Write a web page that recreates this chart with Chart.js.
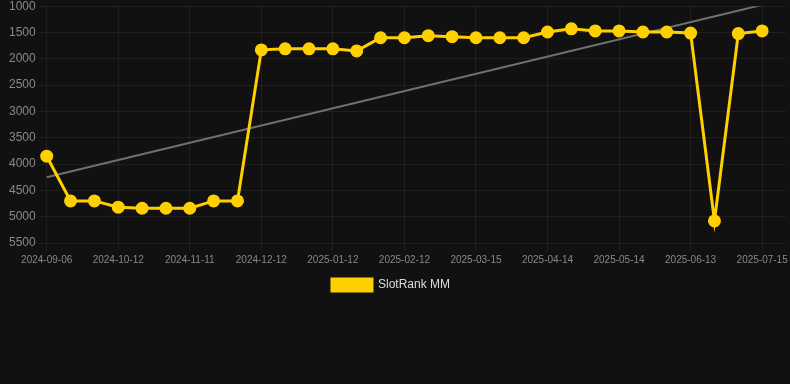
<!DOCTYPE html>
<html>
<head>
<meta charset="utf-8">
<script src="https://cdn.jsdelivr.net/npm/chart.js@4"></script>
<style>
  html, body { margin: 0; padding: 0; background: #111111; overflow: hidden; }
  #wrap { width: 794px; height: 388px; position: relative; margin-top: -4px; }
</style>
</head>
<body>
<div id="wrap"><canvas id="c"></canvas></div>
<script>
const dates = [
  "2024-09-06","2024-09-18","2024-09-30","2024-10-12","2024-10-22","2024-11-01",
  "2024-11-11","2024-11-21","2024-12-01","2024-12-12","2024-12-22","2025-01-02",
  "2025-01-12","2025-01-22","2025-02-02","2025-02-12","2025-02-22","2025-03-05",
  "2025-03-15","2025-03-25","2025-04-04","2025-04-14","2025-04-24","2025-05-04",
  "2025-05-14","2025-05-24","2025-06-03","2025-06-13","2025-06-23","2025-07-04",
  "2025-07-15","2025-07-25"
];
const rankValues = [
  3850, 4700, 4700, 4820, 4840, 4840, 4840, 4700, 4700, 1830,
  1810, 1810, 1810, 1850, 1600, 1600, 1560, 1580, 1600, 1600,
  1600, 1490, 1430, 1470, 1470, 1490, 1490, 1510, 5080, 1520,
  1470, null
];
const trendStart = 4250;
const trendEnd = 975;
const trendValues = dates.map((d, i) => i === 0 ? trendStart : (i === 30 ? trendEnd : null));

const legendShift = {
  id: 'legendShift',
  afterLayout(chart) {
    if (chart.legend) {
      chart.legend.left -= 9;
      chart.legend.right -= 9;
    }
  }
};

new Chart(document.getElementById('c'), {
  type: 'line',
  plugins: [legendShift],
  data: {
    labels: dates,
    datasets: [
      {
        label: 'SlotRank MM',
        data: rankValues,
        borderColor: '#FFD000',
        backgroundColor: '#FFD000',
        borderWidth: 3,
        pointRadius: 5,
        pointHoverRadius: 5,
        pointBackgroundColor: '#FFD000',
        pointBorderColor: '#FFD000',
        tension: 0,
        order: 1
      },
      {
        label: 'trend',
        data: trendValues,
        spanGaps: true,
        borderColor: '#707070',
        borderWidth: 2,
        pointRadius: 0,
        tension: 0,
        order: 2
      }
    ]
  },
  options: {
    responsive: true,
    maintainAspectRatio: false,
    animation: false,
    layout: { padding: { top: 0, right: 0, bottom: 83, left: 6 } },
    plugins: {
      legend: {
        position: 'bottom',
        labels: {
          color: '#dddddd',
          font: { size: 12 },
          boxWidth: 40,
          boxHeight: 12,
          filter: (item) => item.text !== 'trend'
        }
      },
      tooltip: { enabled: false }
    },
    scales: {
      x: {
        grid: { color: 'rgba(255,255,255,0.06)', tickLength: 8 },
        border: { display: false },
        ticks: {
          color: '#888888',
          font: { size: 10 },
          maxRotation: 0,
          autoSkip: true,
          maxTicksLimit: 11
        }
      },
      y: {
        reverse: true,
        min: 1000,
        max: 5500,
        grid: { color: 'rgba(255,255,255,0.06)', tickLength: 8 },
        border: { display: false },
        ticks: {
          stepSize: 500,
          color: '#888888',
          font: { size: 12 },
          callback: (v) => String(v)
        }
      }
    }
  }
});
</script>
</body>
</html>
